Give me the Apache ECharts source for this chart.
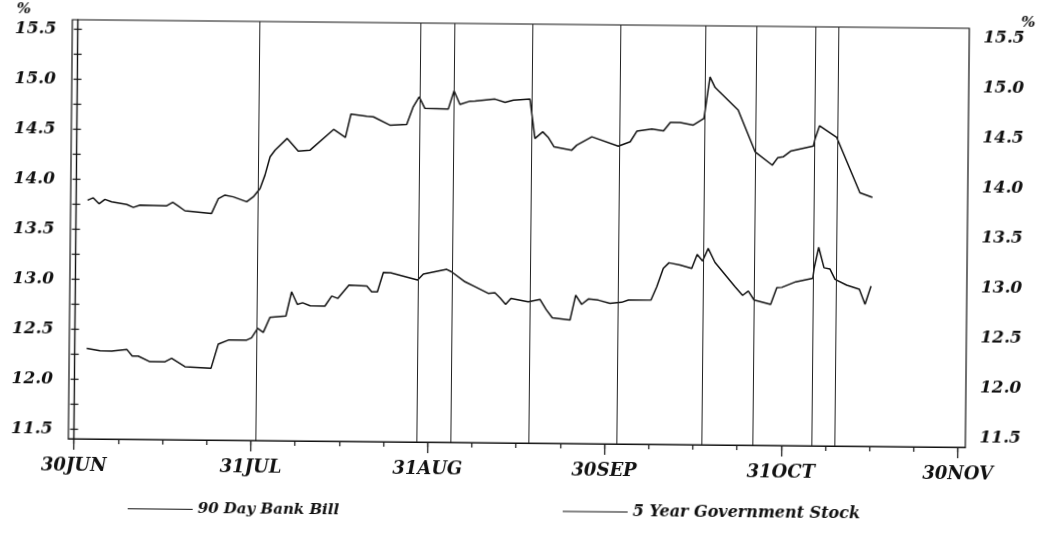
<!DOCTYPE html>
<html>
<head>
<meta charset="utf-8">
<script src="https://cdn.jsdelivr.net/npm/echarts@6/dist/echarts.min.js"></script>
<style>
html,body{margin:0;padding:0;background:#fff;overflow:hidden;}
#chart{width:1040px;height:541px;transform:rotate(0.55deg);transform-origin:50% 50%;}
</style>
</head>
<body>
<div id="chart"></div>
<script>
// x positions are in months: 0 = 30JUN, 1 = 31JUL, ... 5 = 30NOV
const xLabels = ['30JUN','31JUL','31AUG','30SEP','31OCT','30NOV'];
const xLabelPos = [0,1,2,3,4,5];
const xMinorPos = [0,0.25,0.5,0.75,1,1.25,1.5,1.75,2,2.25,2.5,2.75,3,3.25,3.5,3.75,4,4.25,4.5,4.75,5];
const yLabelVals = [11.5,12.0,12.5,13.0,13.5,14.0,14.5,15.0,15.5];
const yTickVals = [11.5,11.75,12,12.25,12.5,12.75,13,13.25,13.5,13.75,14,14.25,14.5,14.75,15,15.25,15.5];

const seriesNames = ['90 Day Bank Bill','5 Year Government Stock'];

const billX = [0.064,0.096,0.129,0.162,0.200,0.286,0.323,0.361,0.512,0.546,0.578,0.615,0.766,0.803,0.841,0.888,0.964,1.001,1.039,1.066,1.094,1.122,1.190,1.253,1.320,1.452,1.519,1.549,1.639,1.676,1.770,1.865,1.901,1.934,1.967,2.099,2.131,2.165,2.222,2.250,2.363,2.420,2.467,2.561,2.591,2.635,2.668,2.700,2.800,2.828,2.913,3.063,3.130,3.167,3.252,3.318,3.356,3.412,3.486,3.546,3.578,3.607,3.739,3.837,3.935,3.965,3.996,4.038,4.166,4.176,4.200,4.298,4.432,4.503];
const billY = [13.79,13.815,13.756,13.80,13.777,13.752,13.723,13.747,13.742,13.777,13.74,13.694,13.67,13.817,13.855,13.838,13.79,13.84,13.925,14.058,14.242,14.31,14.428,14.302,14.313,14.522,14.443,14.677,14.658,14.652,14.57,14.579,14.756,14.856,14.741,14.736,14.92,14.784,14.818,14.819,14.841,14.809,14.832,14.844,14.451,14.518,14.459,14.369,14.338,14.388,14.473,14.382,14.427,14.534,14.556,14.54,14.624,14.625,14.60,14.668,15.084,14.979,14.754,14.339,14.207,14.281,14.291,14.349,14.401,14.478,14.605,14.49,13.939,13.894];

const stockX = [0.067,0.142,0.209,0.294,0.325,0.359,0.426,0.511,0.548,0.624,0.771,0.811,0.868,0.972,0.999,1.033,1.065,1.102,1.192,1.223,1.256,1.286,1.328,1.412,1.450,1.484,1.547,1.648,1.676,1.708,1.741,1.782,1.935,1.967,2.099,2.127,2.203,2.260,2.335,2.373,2.402,2.434,2.464,2.562,2.628,2.663,2.699,2.799,2.830,2.864,2.902,2.958,3.024,3.090,3.128,3.256,3.288,3.324,3.356,3.419,3.485,3.515,3.546,3.577,3.616,3.731,3.774,3.806,3.839,3.933,3.967,3.995,4.074,4.170,4.177,4.202,4.233,4.267,4.296,4.362,4.434,4.467,4.500];
const stockY = [12.308,12.286,12.284,12.302,12.236,12.236,12.18,12.182,12.217,12.134,12.12,12.364,12.405,12.407,12.43,12.525,12.485,12.636,12.651,12.894,12.769,12.785,12.756,12.754,12.855,12.832,12.967,12.958,12.902,12.902,13.097,13.094,13.023,13.084,13.133,13.109,13.011,12.962,12.897,12.904,12.854,12.789,12.849,12.817,12.842,12.742,12.659,12.638,12.888,12.796,12.85,12.84,12.809,12.82,12.843,12.846,12.979,13.164,13.22,13.198,13.167,13.307,13.241,13.368,13.229,12.987,12.901,12.945,12.856,12.814,12.981,12.985,13.042,13.078,13.178,13.389,13.185,13.173,13.07,13.014,12.973,12.823,13.007];

// event marker lines (month positions)
const eventX = [1.035,1.940,2.132,2.568,3.066,3.552,3.840,4.169,4.299];

const FONT = 'DejaVu Serif';
const ink = '#111';
const zip = (xs, ys) => xs.map((x, i) => [x, ys[i]]);

const X_MIN = -0.0317, X_MAX = 5.042;
const Y_MIN = 11.403, Y_MAX = 15.595;

function yAxisCfg(pos) {
  const left = pos === 'left';
  return {
    type: 'value', position: pos, min: Y_MIN, max: Y_MAX,
    name: left ? '%' : '',
    nameLocation: 'end', nameGap: 2,
    nameTextStyle: {
      fontFamily: FONT, fontStyle: 'italic', fontWeight: 'bold', fontSize: 15, color: ink,
      align: 'right', padding: [0, 47, 0, 0]
    },
    axisLine: {show: true, lineStyle: {color: ink, width: 1.2}},
    axisTick: {show: true, inside: false, length: 4, customValues: yTickVals, lineStyle: {color: ink, width: 1.2}},
    axisLabel: {
      show: true, customValues: yLabelVals, margin: left ? 16 : 14,
      formatter: v => Number(v).toFixed(1),
      fontFamily: FONT, fontStyle: 'italic', fontWeight: 'bold', fontSize: 17, color: ink
    },
    splitLine: {show: false}
  };
}

const chart = echarts.init(document.getElementById('chart'), null, {renderer: 'canvas'});
chart.setOption({
  animation: false,
  backgroundColor: '#fff',
  title: {
    text: '%', right: 2, top: 6,
    textStyle: {fontFamily: FONT, fontStyle: 'italic', fontWeight: 'bold', fontSize: 15, color: ink}
  },
  grid: {left: 70, right: 73, top: 24, bottom: 98, show: true, borderColor: ink, borderWidth: 1.2, containLabel: false},
  xAxis: [
    {
      type: 'value', min: X_MIN, max: X_MAX, position: 'bottom',
      axisLine: {show: true, onZero: false, lineStyle: {color: ink, width: 1.2}},
      axisTick: {show: true, inside: false, length: 5, customValues: xMinorPos, lineStyle: {color: ink, width: 1.2}},
      axisLabel: {
        show: true, customValues: xLabelPos, margin: 18,
        formatter: v => xLabels[Math.round(v)],
        fontFamily: FONT, fontStyle: 'italic', fontWeight: 'bold', fontSize: 18, color: ink
      },
      splitLine: {show: false}
    },
    {
      type: 'value', min: X_MIN, max: X_MAX, position: 'bottom', offset: 0,
      axisLine: {show: false, onZero: false},
      axisTick: {show: true, inside: false, length: 11, customValues: xLabelPos, lineStyle: {color: ink, width: 1.2}},
      axisLabel: {show: false},
      splitLine: {show: false}
    }
  ],
  yAxis: [yAxisCfg('left'), yAxisCfg('right')],
  legend: [
    {
      data: [seriesNames[0]], left: 125, top: 500, icon: 'rect', itemWidth: 65, itemHeight: 1.2,
      textStyle: {fontFamily: FONT, fontStyle: 'italic', fontWeight: 'bold', fontSize: 15, color: ink}
    },
    {
      data: [seriesNames[1]], left: 560, top: 498, icon: 'rect', itemWidth: 65, itemHeight: 1.2,
      textStyle: {fontFamily: FONT, fontStyle: 'italic', fontWeight: 'bold', fontSize: 16, color: ink}
    }
  ],
  series: [
    {
      name: seriesNames[0], type: 'line', xAxisIndex: 0, yAxisIndex: 0,
      data: zip(billX, billY), showSymbol: false, symbol: 'none',
      color: ink, lineStyle: {color: ink, width: 1.5},
      markLine: {
        silent: true, symbol: ['none', 'none'], label: {show: false},
        lineStyle: {color: '#222', width: 1, type: 'solid'},
        data: eventX.map(x => ({xAxis: x}))
      }
    },
    {
      name: seriesNames[1], type: 'line', xAxisIndex: 0, yAxisIndex: 1,
      data: zip(stockX, stockY), showSymbol: false, symbol: 'none',
      color: ink, lineStyle: {color: ink, width: 1.5}
    }
  ]
});
</script>
</body>
</html>
